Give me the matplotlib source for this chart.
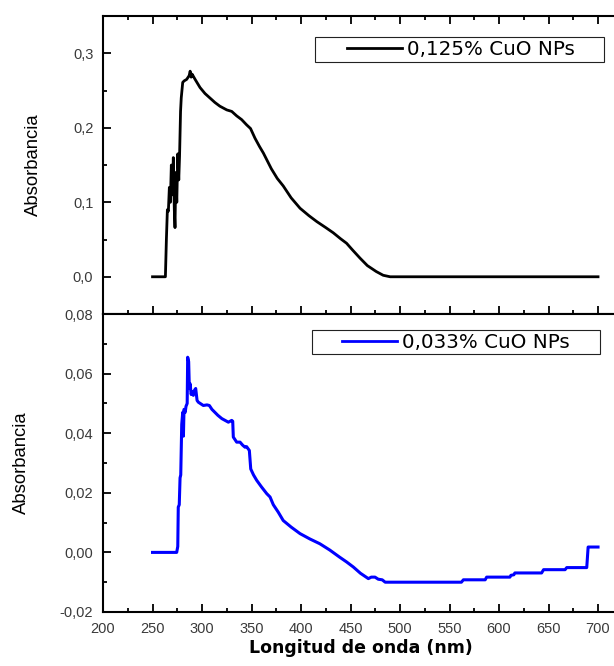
"""UV-Vis absorbance spectra of CuO NPs, two stacked panels."""

import matplotlib

matplotlib.use("Agg")
import matplotlib.pyplot as plt
from matplotlib.patches import Rectangle
from matplotlib.ticker import FuncFormatter, MultipleLocator

# 0,125 % CuO NPs (black, upper panel)
wl_high = [250, 263, 264, 265, 266, 267, 268, 269, 270, 271, 272, 272.7,
           273.5, 274.5, 275.5, 276.5, 277.3, 278.3, 279, 280.5, 282, 284.5,
           286, 287, 288, 289, 290, 293, 298, 303, 308, 313, 318, 325, 330,
           335, 340, 345, 349, 353.5, 358, 362, 370, 376, 382, 390, 399, 408,
           416, 425, 432.6, 440, 446, 452, 459.6, 467, 476, 483, 490, 700]
abs_high = [0.0, 0.0, 0.05, 0.09, 0.088, 0.12, 0.10, 0.15, 0.11, 0.16, 0.09,
            0.066, 0.14, 0.10, 0.165, 0.13, 0.162, 0.222, 0.24, 0.261, 0.263,
            0.265, 0.268, 0.27, 0.276, 0.268, 0.272, 0.265, 0.254, 0.246,
            0.240, 0.234, 0.229, 0.224, 0.222, 0.216, 0.211, 0.204, 0.199,
            0.186, 0.175, 0.166, 0.145, 0.132, 0.122, 0.106, 0.092, 0.082,
            0.074, 0.066, 0.059, 0.051, 0.045, 0.036, 0.025, 0.015, 0.007,
            0.002, 0.0, 0.0]

# 0,033 % CuO NPs (blue, lower panel)
wl_low = [250, 274.4, 275.5, 276, 277, 277.8, 278.5, 279.5, 280.5, 281.2,
          281.8, 283, 283.8, 285, 285.5, 286.5, 287.2, 288, 289, 290, 291.2,
          292.5, 293.6, 295, 296.3, 301.3, 305, 307.4, 310, 313, 316, 320,
          326.6, 330, 331, 331.6, 335, 338.4, 341, 343.4, 345, 347.8, 349.2,
          352, 355.2, 360, 365.4, 368.7, 372, 377, 382, 390, 399, 409, 419,
          429, 439, 446, 452.8, 460, 468, 471, 474.7, 478, 482, 485, 562, 564,
          586, 587.5, 611, 612, 615, 616, 643, 645, 666.7, 668.4, 688.6, 690,
          700]
abs_low = [0.0, 0.0, 0.002, 0.0152, 0.016, 0.025, 0.026, 0.043, 0.047, 0.039,
           0.048, 0.047, 0.049, 0.05, 0.0655, 0.064, 0.055, 0.0566, 0.053,
           0.054, 0.0527, 0.0545, 0.055, 0.051, 0.0504, 0.0493, 0.0495,
           0.0493, 0.048, 0.047, 0.046, 0.0449, 0.0437, 0.0443, 0.044, 0.0387,
           0.037, 0.037, 0.036, 0.0353, 0.0355, 0.0342, 0.028, 0.026, 0.0242,
           0.022, 0.0197, 0.0186, 0.016, 0.0135, 0.0107, 0.0085, 0.0063,
           0.0045, 0.0029, 0.0008, -0.0016, -0.0032, -0.0049, -0.007, -0.0088,
           -0.0083, -0.0083, -0.009, -0.0092, -0.01, -0.01, -0.0092, -0.0092,
           -0.0083, -0.0083, -0.0077, -0.0075, -0.0069, -0.0069, -0.0058,
           -0.0058, -0.0051, -0.0051, 0.0018, 0.0018]

label_high = "0,125% CuO NPs"
label_low = "0,033% CuO NPs"
ylabel = "Absorbancia"
xlabel = "Longitud de onda (nm)"

TICK_FONT = "Liberation Sans"
TICK_COLOR = "#3a3a3a"
X_MAX = 725  # right spine falls just outside the cropped image


def comma_fmt(decimals):
    def fmt(v, pos):
        if abs(v) < 1e-12:
            v = 0.0
        return f"{v:.{decimals}f}".replace(".", ",")
    return FuncFormatter(fmt)


def style_axes(ax):
    for spine in ax.spines.values():
        spine.set_linewidth(1.5)
    ax.tick_params(which="both", direction="in", width=1.3,
                   labelsize=10.5, labelcolor=TICK_COLOR, pad=7)
    ax.tick_params(which="major", length=6)
    ax.tick_params(which="minor", length=3)
    ax.xaxis.set_major_locator(MultipleLocator(50))
    ax.xaxis.set_minor_locator(MultipleLocator(25))
    ax.set_xlim(200, X_MAX)
    for lab in ax.get_xticklabels() + ax.get_yticklabels():
        lab.set_fontfamily(TICK_FONT)


def legend_box(ax, label, color, rect, anchor):
    x0, y0, x1, y1 = rect
    ax.add_patch(Rectangle((x0, y0), x1 - x0, y1 - y0, transform=ax.transAxes,
                           fill=False, edgecolor="#222222", linewidth=0.8,
                           zorder=5))
    handle, = ax.plot([], [], color=color, linewidth=2.0)
    ax.legend([handle], [label], loc="center left", bbox_to_anchor=anchor,
              frameon=False, borderpad=0, borderaxespad=0,
              handlelength=2.75, handletextpad=0.28,
              prop={"family": "DejaVu Sans", "size": 14.3})


fig = plt.figure(figsize=(6.14, 6.66), dpi=100)
# axes width chosen so 1 nm = 0.99 px, as in the reference
width = 0.99 * (X_MAX - 200) / 614
ax_top = fig.add_axes([0.1678, 0.5285, width, 0.4474])
ax_bot = fig.add_axes([0.1678, 0.0811, width, 0.4474])


def fx(px):
    """pixel column -> axes fraction"""
    return (px - 103) / (width * 614)


# upper panel
ax_top.plot(wl_high, abs_high, color="black", linewidth=2.0)
ax_top.set_ylim(-0.05, 0.35)
ax_top.yaxis.set_major_locator(MultipleLocator(0.1))
ax_top.yaxis.set_minor_locator(MultipleLocator(0.05))
ax_top.yaxis.set_major_formatter(comma_fmt(1))
ax_top.tick_params(which="both", top=True, bottom=True, right=True,
                   labelbottom=False)
style_axes(ax_top)
ax_top.set_ylabel(ylabel, fontsize=13.3, family="Liberation Sans")
ax_top.yaxis.set_label_coords(fx(42), 0.5)
legend_box(ax_top, label_high, "black",
           (fx(315), 0.8456, fx(604), 0.9295), (fx(347), 0.8876))

# lower panel
ax_bot.plot(wl_low, abs_low, color="#0000ff", linewidth=2.2)
ax_bot.set_ylim(-0.02, 0.08)
ax_bot.yaxis.set_major_locator(MultipleLocator(0.02))
ax_bot.yaxis.set_minor_locator(MultipleLocator(0.01))
ax_bot.yaxis.set_major_formatter(comma_fmt(2))
ax_bot.tick_params(which="both", top=False, bottom=True, right=True)
style_axes(ax_bot)
ax_bot.set_ylabel(ylabel, fontsize=13.3, family="Liberation Sans")
ax_bot.yaxis.set_label_coords(fx(30), 0.5)
ax_bot.set_xlabel(xlabel, fontsize=12.5, fontweight="bold",
                  family="DejaVu Sans")
ax_bot.xaxis.set_label_coords(fx(361), -0.09)
legend_box(ax_bot, label_low, "#0000ff",
           (fx(312), 0.8658, fx(600), 0.9463), (fx(342), 0.906))

fig.savefig("out.png", dpi=100)
